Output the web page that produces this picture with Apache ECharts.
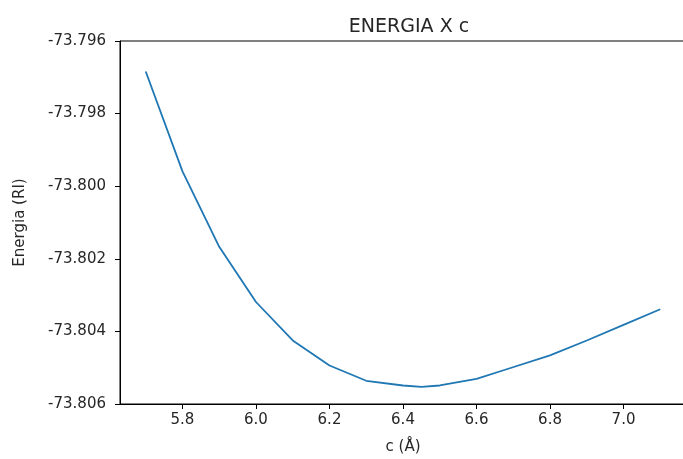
<!DOCTYPE html>
<html>
<head>
<meta charset="utf-8">
<script src="https://cdn.jsdelivr.net/npm/echarts@6/dist/echarts.min.js"></script>
<style>
  html, body { margin: 0; padding: 0; background: #fff; }
  #chart { width: 683px; height: 459px; }
</style>
</head>
<body>
<div id="chart"></div>
<script>
// Lattice parameter c (Å) and total energy (RI)
const cValues = [5.7, 5.8, 5.9, 6.0, 6.1, 6.2, 6.3, 6.4, 6.45, 6.5, 6.6, 6.68, 6.8, 6.9, 7.0, 7.1];
const energyValues = [-73.79684, -73.79959, -73.80167, -73.80319, -73.80425, -73.80494, -73.80536,
                      -73.80549, -73.80553, -73.80549, -73.80531, -73.80505, -73.80466, -73.80425,
                      -73.80382, -73.80339];
const xTicks = [5.8, 6.0, 6.2, 6.4, 6.6, 6.8, 7.0];
const yTicks = [-73.806, -73.804, -73.802, -73.800, -73.798, -73.796];

const chart = echarts.init(document.getElementById('chart'), null, { renderer: 'canvas' });
const font = 'DejaVu Sans';
const ink = '#262626';

chart.setOption({
  animation: false,
  backgroundColor: '#fff',
  title: {
    text: 'ENERGIA X c',
    left: 404,
    top: 13,
    textAlign: 'center',
    textStyle: { fontFamily: font, fontSize: 19, fontWeight: 'normal', color: ink }
  },
  grid: {
    left: 120, top: 41, width: 566, height: 363,
    outerBoundsMode: 'none',
    containLabel: false,
    show: true, borderColor: '#000', borderWidth: 1, backgroundColor: 'transparent'
  },
  xAxis: {
    type: 'value',
    min: 5.63, max: 7.17,
    name: 'c (Å)',
    nameLocation: 'middle',
    nameGap: 36,
    nameTextStyle: { fontFamily: font, fontSize: 15, color: ink },
    axisLine: { show: true, lineStyle: { color: '#000', width: 1 } },
    axisTick: { show: true, length: 5, customValues: xTicks, lineStyle: { color: '#000' } },
    axisLabel: {
      customValues: xTicks, margin: 9,
      fontFamily: font, fontSize: 15, color: ink,
      formatter: v => v.toFixed(1)
    },
    splitLine: { show: false }
  },
  yAxis: {
    type: 'value',
    min: -73.806, max: -73.796,
    name: 'Energia (RI)',
    nameLocation: 'middle',
    nameGap: 92,
    nameTextStyle: { fontFamily: font, fontSize: 15, color: ink },
    axisLine: { show: true, lineStyle: { color: '#000', width: 1 } },
    axisTick: { show: true, length: 5, customValues: yTicks, lineStyle: { color: '#000' } },
    axisLabel: {
      customValues: yTicks, margin: 14,
      fontFamily: font, fontSize: 15, color: ink,
      formatter: v => v.toFixed(3)
    },
    splitLine: { show: false }
  },
  series: [{
    type: 'line',
    data: cValues.map((c, i) => [c, energyValues[i]]),
    showSymbol: false,
    lineStyle: { color: '#1f77b4', width: 1.8 },
    clip: true
  }]
});
</script>
</body>
</html>
